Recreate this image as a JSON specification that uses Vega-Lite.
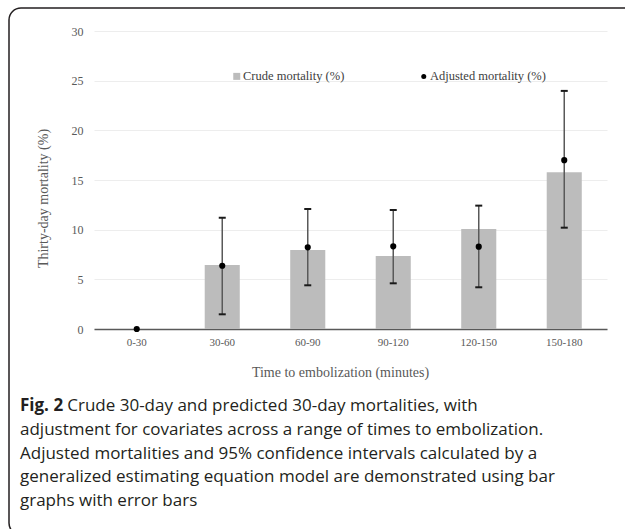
{
  "$schema": "https://vega.github.io/schema/vega-lite/v6.json",
  "autosize": {"type": "none"},
  "padding": {"left": 9, "top": 8, "right": -24, "bottom": -6},
  "width": 640,
  "height": 527,
  "background": "white",
  "config": {
    "view": {"stroke": "#231f20", "strokeWidth": 1.5, "cornerRadius": 12, "fill": "white"},
    "axisY": {
      "domain": false,
      "ticks": false,
      "tickSize": 0,
      "labelPadding": -74,
      "labelFont": "Liberation Serif",
      "labelFontSize": 12,
      "labelColor": "#595959",
      "gridColor": "#ededed",
      "gridWidth": 1,
      "titleFont": "Liberation Serif",
      "titleFontSize": 14,
      "titleFontWeight": "normal",
      "titleColor": "#595959",
      "titleX": 34,
      "titleY": 190,
      "titleBaseline": "middle",
      "titleAngle": -90
    }
  },
  "data": {
    "values": [
      {"time": "0-30", "crude": 0, "adjusted": 0, "lower": null, "upper": null},
      {"time": "30-60", "crude": 6.45, "adjusted": 6.37, "lower": 1.48, "upper": 11.2},
      {"time": "60-90", "crude": 7.96, "adjusted": 8.22, "lower": 4.4, "upper": 12.08},
      {"time": "90-120", "crude": 7.35, "adjusted": 8.32, "lower": 4.6, "upper": 11.98},
      {"time": "120-150", "crude": 10.07, "adjusted": 8.29, "lower": 4.2, "upper": 12.42},
      {"time": "150-180", "crude": 15.78, "adjusted": 17.0, "lower": 10.2, "upper": 23.97}
    ]
  },
  "title": {
    "text": "Fig. 2",
    "subtitle": [
      "\u200b\u2003\u2003\u00a0\u00a0\u00a0Crude 30-day and predicted 30-day mortalities, with",
      "adjustment for covariates across a range of times to embolization.",
      "Adjusted mortalities and 95% confidence intervals calculated by a",
      "generalized estimating equation model are demonstrated using bar",
      "graphs with error bars"
    ],
    "orient": "bottom",
    "anchor": "start",
    "frame": "group",
    "dx": 11,
    "offset": -137,
    "font": "Open Sans",
    "fontSize": 17,
    "fontWeight": "bold",
    "color": "#231f20",
    "subtitleFont": "Open Sans",
    "subtitleFontSize": 17,
    "subtitleColor": "#231f20",
    "subtitleLineHeight": 23.8,
    "subtitlePadding": -17
  },
  "encoding": {
    "x": {
      "field": "time",
      "type": "nominal",
      "sort": null,
      "scale": {"range": [85, 598], "paddingInner": 0.59, "paddingOuter": 0.295},
      "axis": {
        "title": "Time to embolization (minutes)",
        "labelAngle": 0,
        "offset": -206,
        "domainColor": "#595959",
        "domainWidth": 1.5,
        "ticks": false,
        "tickSize": 0,
        "grid": false,
        "labelPadding": 7,
        "labelFont": "Liberation Serif",
        "labelFontSize": 11,
        "labelColor": "#595959",
        "titleFont": "Liberation Serif",
        "titleFontSize": 14,
        "titleFontWeight": "normal",
        "titleColor": "#595959",
        "titleX": 331,
        "titleY": 43,
        "titleBaseline": "middle"
      }
    }
  },
  "layer": [
    {
      "mark": {"type": "bar", "color": "#bcbcbc"},
      "encoding": {
        "y": {
          "field": "crude",
          "type": "quantitative",
          "scale": {"domain": [0, 30], "range": [321, 23], "nice": false},
          "axis": {"title": "Thirty-day mortality (%)", "values": [0, 5, 10, 15, 20, 25, 30]}
        },
        "color": {
          "datum": "Crude mortality (%)",
          "type": "nominal",
          "scale": {
            "domain": ["Crude mortality (%)", "Adjusted mortality (%)"],
            "range": ["#bcbcbc", "#000000"]
          },
          "legend": {
            "title": null,
            "orient": "none",
            "legendX": 221.5,
            "legendY": 62,
            "direction": "horizontal",
            "columns": 2,
            "columnPadding": 73,
            "padding": 0,
            "symbolSize": 49,
            "labelFont": "Liberation Serif",
            "labelFontSize": 12.5,
            "labelColor": "#404040",
            "labelOffset": 0,
            "symbolStrokeWidth": 0,
            "encode": {
              "symbols": {
                "update": {
                  "shape": {"signal": "datum.value === 'Crude mortality (%)' ? 'square' : 'circle'"},
                  "size": {"signal": "datum.value === 'Crude mortality (%)' ? 49 : 25"},
                  "strokeWidth": {"value": 0}
                }
              }
            }
          }
        }
      }
    },
    {
      "transform": [{"filter": "datum.upper != null"}],
      "mark": {"type": "rule", "color": "#595959", "strokeWidth": 1.5},
      "encoding": {
        "y": {"field": "lower", "type": "quantitative", "scale": {"domain": [0, 30], "range": [321, 23], "nice": false}, "axis": {"title": "Thirty-day mortality (%)", "values": [0, 5, 10, 15, 20, 25, 30]}},
        "y2": {"field": "upper"}
      }
    },
    {
      "transform": [{"filter": "datum.upper != null"}],
      "mark": {"type": "tick", "color": "#1a1a1a", "thickness": 2, "size": 7, "opacity": 1},
      "encoding": {
        "y": {"field": "lower", "type": "quantitative", "scale": {"domain": [0, 30], "range": [321, 23], "nice": false}, "axis": {"title": "Thirty-day mortality (%)", "values": [0, 5, 10, 15, 20, 25, 30]}}
      }
    },
    {
      "transform": [{"filter": "datum.upper != null"}],
      "mark": {"type": "tick", "color": "#1a1a1a", "thickness": 2, "size": 7, "opacity": 1},
      "encoding": {
        "y": {"field": "upper", "type": "quantitative", "scale": {"domain": [0, 30], "range": [321, 23], "nice": false}, "axis": {"title": "Thirty-day mortality (%)", "values": [0, 5, 10, 15, 20, 25, 30]}}
      }
    },
    {
      "mark": {"type": "point", "filled": true, "size": 38, "opacity": 1},
      "encoding": {
        "y": {"field": "adjusted", "type": "quantitative", "scale": {"domain": [0, 30], "range": [321, 23], "nice": false}, "axis": {"title": "Thirty-day mortality (%)", "values": [0, 5, 10, 15, 20, 25, 30]}},
        "color": {"datum": "Adjusted mortality (%)", "type": "nominal"}
      }
    }
  ]
}
